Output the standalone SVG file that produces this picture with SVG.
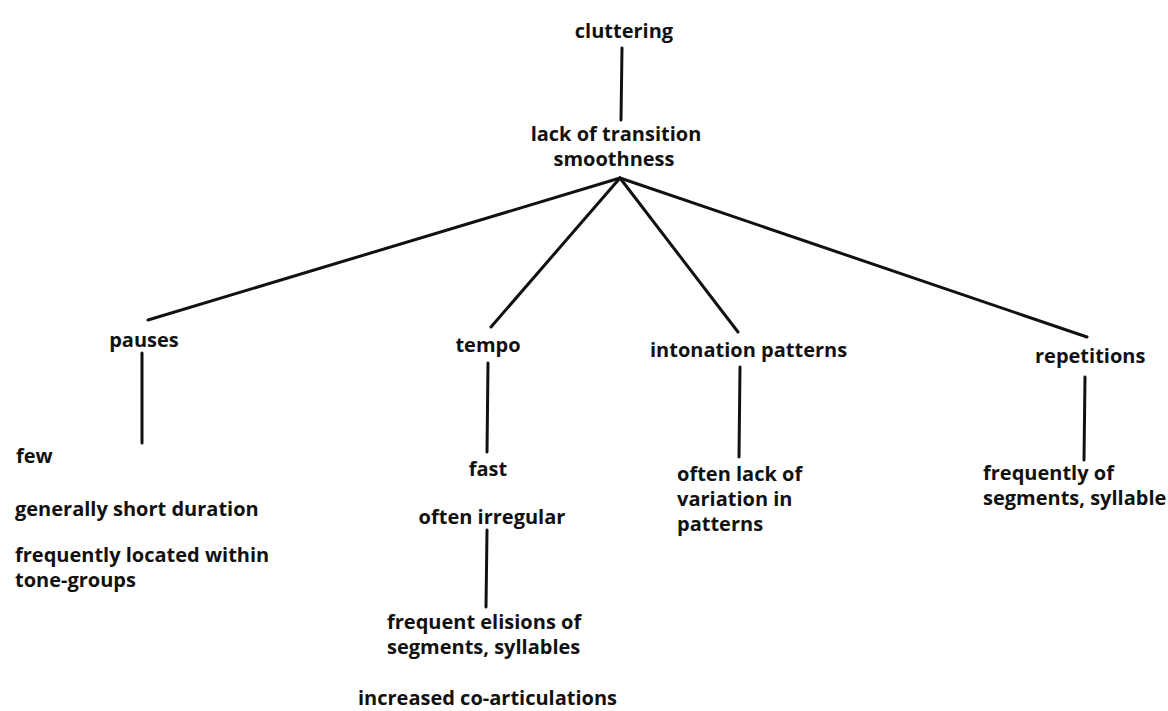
<svg xmlns="http://www.w3.org/2000/svg" width="1168" height="711" viewBox="0 0 1168 711">
<style>
text{font-family:"Open Sans","DejaVu Sans",sans-serif;font-weight:bold;font-size:20px;fill:#111}
.c{text-anchor:middle}
line{stroke:#111;stroke-width:3;stroke-linecap:round}
</style>
<rect width="1168" height="711" fill="#fff"/>
<g id="connectors">
<line x1="622" y1="48" x2="621" y2="120"/>
<line x1="620" y1="178" x2="148" y2="320"/>
<line x1="620" y1="178" x2="491" y2="327"/>
<line x1="620" y1="178" x2="738" y2="332"/>
<line x1="620" y1="178" x2="1087" y2="337"/>
<line x1="142" y1="353" x2="142" y2="443"/>
<line x1="488" y1="363" x2="487" y2="452"/>
<line x1="487" y1="530" x2="486" y2="607"/>
<line x1="740" y1="367" x2="739" y2="457"/>
<line x1="1085" y1="377" x2="1084" y2="460"/>
</g>
<g id="cluttering"><text class="c" x="624" y="38">cluttering</text></g>
<g id="lack"><text class="c" x="616" y="141">lack of transition</text><text class="c" x="614" y="166">smoothness</text></g>
<g id="pauses"><text class="c" x="144" y="347">pauses</text></g>
<g id="pauses-details"><text x="16" y="463">few</text><text x="15" y="516">generally short duration</text><text x="15" y="562">frequently located within</text><text x="15" y="587">tone-groups</text></g>
<g id="tempo"><text class="c" x="488" y="352">tempo</text></g>
<g id="fast"><text class="c" x="488" y="476">fast</text><text class="c" x="492" y="524">often irregular</text></g>
<g id="elisions"><text x="387" y="629">frequent elisions of</text><text x="387" y="654">segments, syllables</text></g>
<g id="coartic"><text x="358" y="705">increased co-articulations</text></g>
<g id="intonation"><text x="650" y="357">intonation patterns</text></g>
<g id="intonation-details"><text x="677" y="481">often lack of</text><text x="677" y="506">variation in</text><text x="677" y="531">patterns</text></g>
<g id="repetitions"><text x="1035" y="363">repetitions</text></g>
<g id="repetitions-details"><text x="983" y="480">frequently of</text><text x="983" y="505">segments, syllable</text></g>
</svg>
